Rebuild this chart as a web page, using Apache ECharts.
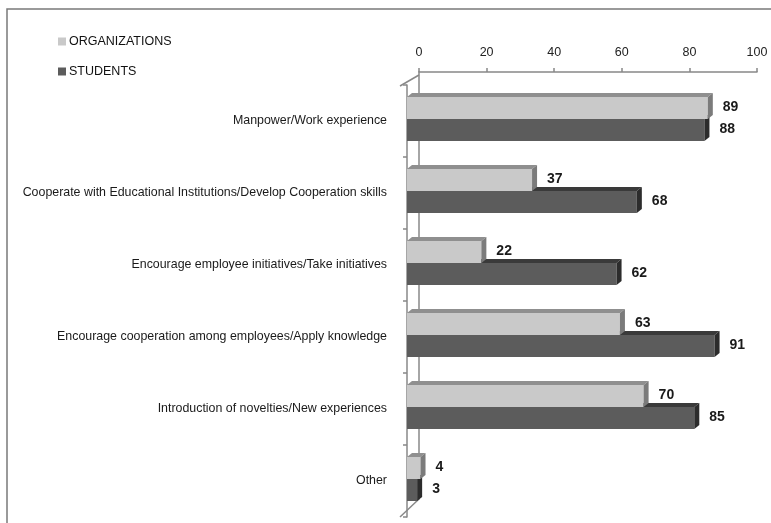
<!DOCTYPE html>
<html>
<head>
<meta charset="utf-8">
<script src="https://cdn.jsdelivr.net/npm/echarts@6/dist/echarts.min.js"></script>
<style>
  html, body { margin: 0; padding: 0; background: #fff; }
  #chart { width: 771px; height: 523px; }
</style>
</head>
<body>
<div id="chart"></div>
<script>
const categories = [
  'Manpower/Work experience',
  'Cooperate with Educational Institutions/Develop Cooperation skills',
  'Encourage employee initiatives/Take initiatives',
  'Encourage cooperation among employees/Apply knowledge',
  'Introduction of novelties/New experiences',
  'Other'
];
const organizations = [89, 37, 22, 63, 70, 4];
const students = [88, 68, 62, 91, 85, 3];
const xTicks = [0, 20, 40, 60, 80, 100];

const FONT = '"Liberation Sans", Arial, sans-serif';
const BAR_W = 22;
const DX = 5, DY = 4;

// front, top, side colours for each series
const shades = {
  ORGANIZATIONS: ['#c9c9c9', '#8f8f8f', '#7b7b7b'],
  STUDENTS: ['#5c5c5c', '#3a3a3a', '#2c2c2c']
};

function makeBar(name, upper) {
  return function (params, api) {
    const v = api.value(0);
    const cat = api.value(1);
    const start = api.coord([0, cat]);
    const end = api.coord([v, cat]);
    const x0 = start[0], x1 = end[0];
    const y0 = start[1] - 2 + (upper ? -BAR_W : 0);
    const c = shades[name];
    return {
      type: 'group',
      children: [
        { type: 'polygon', shape: { points: [[x0, y0], [x1, y0], [x1 + DX, y0 - DY], [x0 + DX, y0 - DY]] },
          style: { fill: c[1] } },
        { type: 'rect', shape: { x: x0, y: y0, width: x1 - x0, height: BAR_W },
          style: { fill: c[0] } },
        { type: 'polygon', shape: { points: [[x1, y0], [x1 + DX, y0 - DY], [x1 + DX, y0 + BAR_W - DY], [x1, y0 + BAR_W]] },
          style: { fill: c[2] } },
        { type: 'text', style: { text: String(v), x: x1 + 15, y: y0 + BAR_W / 2 - 1,
          verticalAlign: 'middle', align: 'left', fill: '#1a1a1a',
          font: 'bold 14px ' + FONT } }
      ]
    };
  };
}

const chart = echarts.init(document.getElementById('chart'));
chart.setOption({
  animation: false,
  backgroundColor: '#fff',
  legend: {
    orient: 'vertical',
    left: 53,
    top: 30,
    itemGap: 17,
    itemWidth: 8,
    itemHeight: 8,
    icon: 'rect',
    data: ['ORGANIZATIONS', 'STUDENTS'],
    textStyle: { fontFamily: FONT, fontSize: 12.5, color: '#111', padding: [0, 0, 0, -2] }
  },
  grid: [
    { left: 419, width: 338, top: 72, height: 427 },
    { left: 407, width: 338, top: 85, height: 432 }
  ],
  xAxis: [
    {
      gridIndex: 0, type: 'value', position: 'top', min: 0, max: 100, interval: 20,
      axisLine: { show: true, lineStyle: { color: '#888', width: 1.5 } },
      axisTick: { show: true, length: 4, lineStyle: { color: '#888', width: 1.5 } },
      axisLabel: { margin: 13, fontFamily: FONT, fontSize: 12.5, color: '#222',
        formatter: v => xTicks.includes(v) ? String(v) : '' },
      splitLine: { show: false }
    },
    {
      gridIndex: 1, type: 'value', min: 0, max: 100, show: false
    }
  ],
  yAxis: [
    {
      gridIndex: 0, type: 'category', inverse: true, data: categories,
      axisLine: { show: true, lineStyle: { color: '#888', width: 1.5 } },
      axisTick: { show: false }, axisLabel: { show: false }
    },
    {
      gridIndex: 1, type: 'category', inverse: true, data: categories, offset: 7,
      axisLine: { show: true, lineStyle: { color: '#888', width: 1.5 } },
      axisTick: { show: true, length: 4, lineStyle: { color: '#888', width: 1.5 } },
      axisLabel: { margin: 13, fontFamily: FONT, fontSize: 12.4, color: '#1a1a1a' }
    }
  ],
  series: [
    {
      name: 'STUDENTS', type: 'custom', xAxisIndex: 1, yAxisIndex: 1, z: 5,
      itemStyle: { color: shades.STUDENTS[0] },
      renderItem: makeBar('STUDENTS', false),
      data: students.map((v, i) => [v, i])
    },
    {
      name: 'ORGANIZATIONS', type: 'custom', xAxisIndex: 1, yAxisIndex: 1, z: 6,
      itemStyle: { color: shades.ORGANIZATIONS[0] },
      renderItem: makeBar('ORGANIZATIONS', true),
      data: organizations.map((v, i) => [v, i])
    }
  ],
  graphic: [
    { type: 'polyline', shape: { points: [[7, 523], [7, 9], [771, 9]] },
      style: { stroke: '#7a7a7a', lineWidth: 1.5, fill: null } },
    { type: 'line', z: 0, shape: { x1: 400, y1: 86, x2: 419, y2: 75 },
      style: { stroke: '#888', lineWidth: 1.5 } },
    { type: 'line', z: 0, shape: { x1: 400, y1: 517, x2: 419, y2: 499 },
      style: { stroke: '#888', lineWidth: 1.5 } }
  ]
});
</script>
</body>
</html>
